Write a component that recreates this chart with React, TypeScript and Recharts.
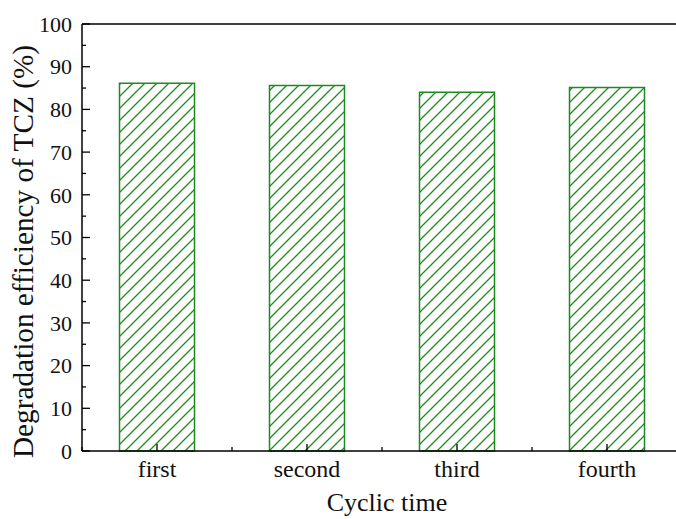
import React from "react";
import { BarChart, Bar, XAxis, YAxis, ReferenceLine, Label } from "recharts";

const categories = ["first", "second", "third", "fourth"];
const efficiency = [86.1, 85.6, 84.0, 85.1];
const yTicks = [0, 5, 10, 15, 20, 25, 30, 35, 40, 45, 50, 55, 60, 65, 70, 75, 80, 85, 90, 95, 100];

const data = categories.map((c, i) => ({ cycle: c, value: efficiency[i] }));

const FONT = '"Liberation Serif", "Times New Roman", Times, serif';
const GREEN = "#1f8a1f";
const TXT = { fontFamily: FONT };

const XTick = (props: any) => {
  const { x, y, payload, index, visibleTicksCount } = props;
  const half = payload && payload.offset ? payload.offset : 75;
  return (
    <g>
      <line x1={x} y1={y} x2={x} y2={y - 7} stroke="#000" strokeWidth={1.3} />
      <line x1={x - half} y1={y} x2={x - half} y2={y - 4} stroke="#000" strokeWidth={1.3} />
      {index === visibleTicksCount - 1 ? (
        <line x1={x + half} y1={y} x2={x + half} y2={y - 4} stroke="#000" strokeWidth={1.3} />
      ) : null}
      <text x={x} y={y + 26} textAnchor="middle" style={TXT} fontSize={24} fill="#111">
        {payload.value}
      </text>
    </g>
  );
};

const YTick = (props: any) => {
  const { x, y, payload } = props;
  const major = payload.value % 10 === 0;
  return (
    <g>
      <line x1={x} y1={y} x2={x + (major ? 8 : 4)} y2={y} stroke="#000" strokeWidth={1.3} />
      {major ? (
        <text x={x - 10} y={y} dy="0.35em" textAnchor="end" style={TXT} fontSize={22} fill="#111">
          {payload.value}
        </text>
      ) : null}
    </g>
  );
};

export default function App() {
  return (
    <div style={{ position: "absolute", left: 0, top: 0, width: 676, height: 519, overflow: "hidden", background: "#fff" }}>
      <BarChart
        width={690}
        height={519}
        data={data}
        margin={{ top: 24, right: 8, left: 0, bottom: 0 }}
        barCategoryGap="25%"
      >
        <defs>
          <pattern id="hatch" patternUnits="userSpaceOnUse" width={12} height={12}>
            <path d="M-3,3 L3,-3 M0,12 L12,0 M9,15 L15,9" stroke={GREEN} strokeWidth={1.3} />
          </pattern>
        </defs>
        <XAxis
          dataKey="cycle"
          height={68}
          axisLine={{ stroke: "#000", strokeWidth: 1.5 }}
          tickLine={false}
          tickSize={0}
          tickMargin={0}
          tick={<XTick />}
          interval={0}
        >
          <Label
            content={() => (
              <text x={387} y={511} textAnchor="middle" style={TXT} fontSize={26} fill="#111">
                Cyclic time
              </text>
            )}
          />
        </XAxis>
        <YAxis
          width={82}
          domain={[0, 100]}
          ticks={yTicks}
          interval={0}
          axisLine={{ stroke: "#000", strokeWidth: 1.5 }}
          tickLine={false}
          tickSize={0}
          tickMargin={0}
          tick={<YTick />}
        >
          <Label
            content={() => (
              <text
                x={33}
                y={251.5}
                transform="rotate(-90 33 251.5)"
                textAnchor="middle"
                style={TXT}
                fontSize={28.5}
                fill="#111"
                textLength={413}
                lengthAdjust="spacingAndGlyphs"
              >
                Degradation efficiency of TCZ (%)
              </text>
            )}
          />
        </YAxis>
        <ReferenceLine y={100} stroke="#000" strokeWidth={1.5} />
        <Bar dataKey="value" fill="url(#hatch)" stroke={GREEN} strokeWidth={1.5} isAnimationActive={false} />
      </BarChart>
    </div>
  );
}
